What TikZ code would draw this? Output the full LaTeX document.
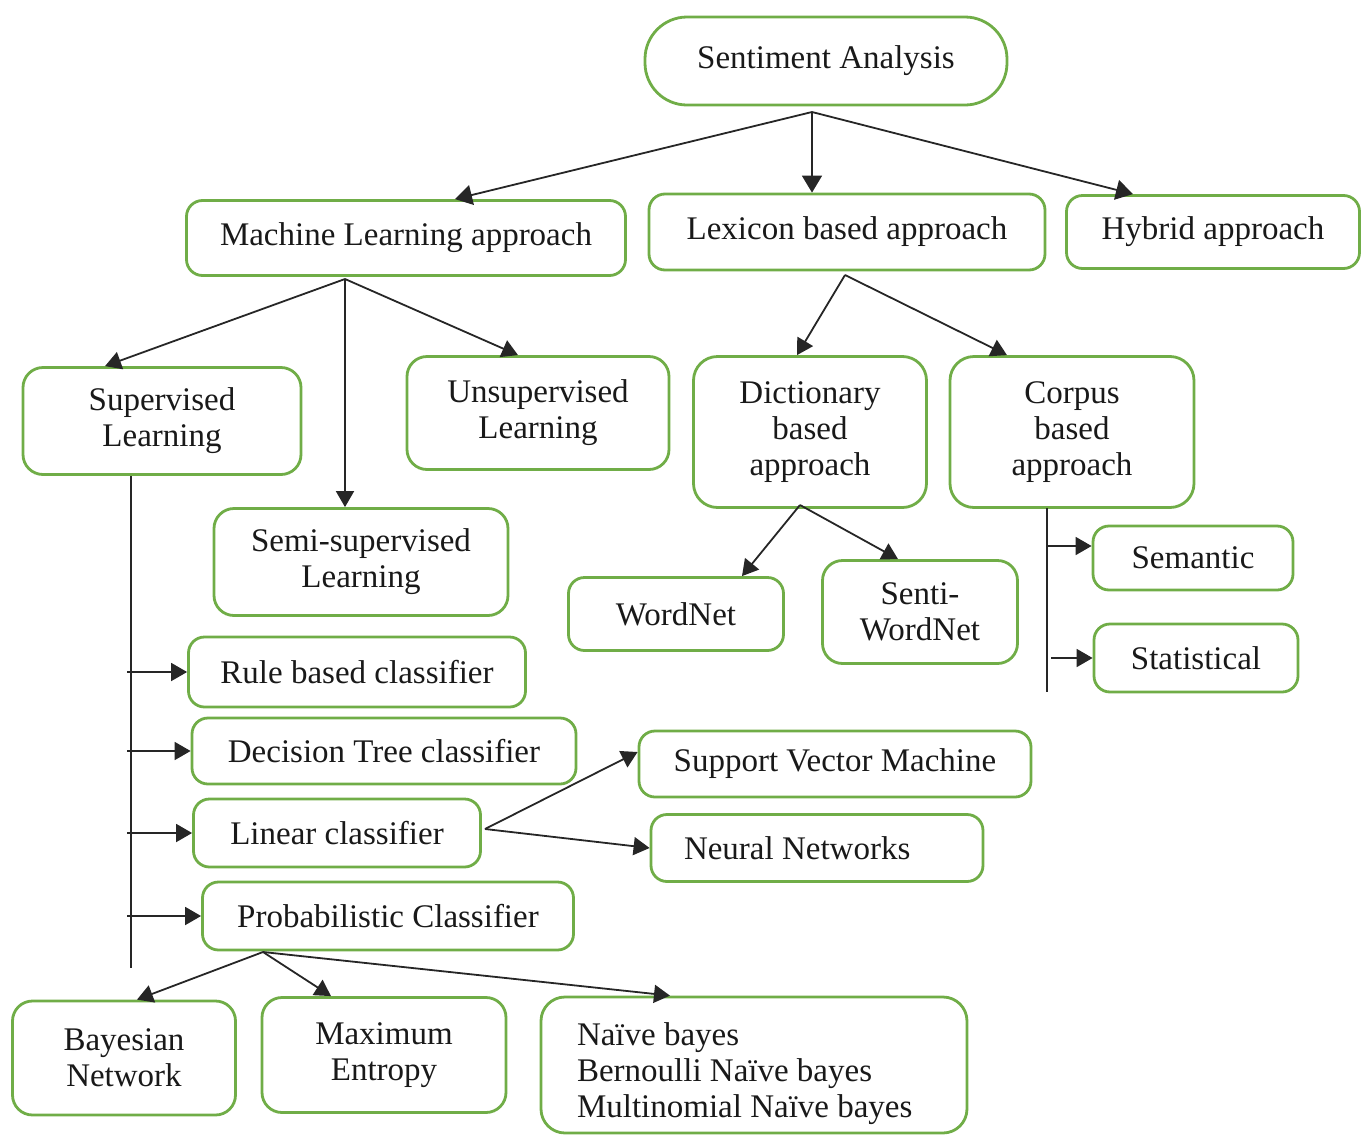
\documentclass[tikz,border=0pt]{standalone}
\usepackage{fontspec}
\setmainfont{Liberation Serif}
\usetikzlibrary{arrows.meta}
\definecolor{boxgreen}{RGB}{112,173,71}
\definecolor{txtgray}{RGB}{25,25,25}

\begin{document}
\begin{tikzpicture}[x=0.5pt,y=-0.5pt,>={Triangle[length=8pt,width=9pt]},
  box/.style={draw=boxgreen,line width=1.4pt,rounded corners=8pt,inner sep=2pt,align=center,
    text=txtgray,font=\fontsize{16.5}{18}\selectfont},
  link/.style={->,draw=black!85,line width=0.9pt},
  trunk/.style={draw=black!85,line width=0.9pt}]
  \useasboundingbox (0,0) rectangle (1362,1136);
  % top levels
  \node[box,minimum width=181pt,minimum height=44pt,rounded corners=21pt] (sa) at (826,61) {Sentiment Analysis};
  \node[box,minimum width=219.5pt,minimum height=37.5pt] (ml) at (406,238) {Machine Learning approach};
  \node[box,minimum width=198pt,minimum height=38pt] (lex) at (847,232) {Lexicon based approach};
  \node[box,minimum width=146.5pt,minimum height=36.5pt] (hyb) at (1213,232) {Hybrid approach};
  % learning types
  \node[box,minimum width=139pt,minimum height=53.5pt,rounded corners=10pt] (sup) at (162,421) {Supervised\\Learning};
  \node[box,minimum width=131pt,minimum height=56.5pt,rounded corners=10pt] (unsup) at (538,413) {Unsupervised\\Learning};
  \node[box,minimum width=147pt,minimum height=53.5pt,rounded corners=10pt] (semi) at (361,562) {Semi-supervised\\Learning};
  % lexicon branch
  \node[box,minimum width=116.5pt,minimum height=75.5pt,rounded corners=12pt] (dict) at (810,432) {Dictionary\\based\\approach};
  \node[box,minimum width=122pt,minimum height=75.5pt,rounded corners=12pt] (corp) at (1072,432) {Corpus\\based\\approach};
  \node[box,minimum width=107.5pt,minimum height=36.5pt] (wn) at (676,614) {WordNet};
  \node[box,minimum width=97.5pt,minimum height=51.5pt,rounded corners=10pt] (swn) at (920,612) {Senti-\\WordNet};
  \node[box,minimum width=100pt,minimum height=32pt] (sem) at (1193,558) {Semantic};
  \node[box,minimum width=102pt,minimum height=34pt] (stat) at (1196,658) {Statistical};
  % supervised classifiers
  \node[box,minimum width=168.5pt,minimum height=35pt] (rule) at (357,672) {Rule based classifier};
  \node[box,minimum width=192pt,minimum height=33pt] (dtree) at (384,751) {Decision Tree classifier};
  \node[box,minimum width=143.5pt,minimum height=34pt] (lin) at (337,833) {Linear classifier};
  \node[box,minimum width=196pt,minimum height=33pt] (svm) at (835,764) {Support Vector Machine};
  \node[box,text width=133pt,inner sep=16.5pt,inner ysep=0pt,align=flush left,minimum height=33.5pt] (nn) at (817,848) {Neural Networks};
  \node[box,minimum width=185.5pt,minimum height=34pt] (prob) at (388,916) {Probabilistic Classifier};
  \node[box,minimum width=111.5pt,minimum height=57pt,rounded corners=10pt] (bayes) at (124,1058) {Bayesian\\Network};
  \node[box,minimum width=122pt,minimum height=57.5pt,rounded corners=10pt] (maxent) at (384,1055) {Maximum\\Entropy};
  \node[box,text width=177pt,inner sep=18pt,inner ysep=0pt,align=flush left,minimum height=68pt,rounded corners=12pt] (nb) at (754,1065)
    {\rule{0pt}{20pt}Naïve bayes\\Bernoulli Naïve bayes\\Multinomial Naïve bayes};
  % junctions
  \coordinate (saj) at (812,112);
  \coordinate (mlj) at (345,279);
  \coordinate (lexj) at (845,275);
  \coordinate (dictj) at (800,505);
  \coordinate (linj) at (485,829);
  \coordinate (probj) at (263,952);
  \coordinate (supt) at (131,476);
  \coordinate (supb) at (131,968);
  \coordinate (corpt) at (1047,508);
  \coordinate (corpb) at (1047,692);
  % connectors
  \draw[link,>={Triangle[length=8.5pt,width=10pt]}] (saj) -- (ml.north -| 455,0);
  \draw[link,>={Triangle[length=8.5pt,width=10pt]}] (saj) -- (lex.north -| 812,0);
  \draw[link,>={Triangle[length=8.5pt,width=10pt]}] (saj) -- (hyb.north -| 1133,0);
  \draw[link] (mlj) -- (sup.north -| 105,0);
  \draw[link] (mlj) -- (semi.north -| 345,0);
  \draw[link] (mlj) -- (unsup.north -| 518,0);
  \draw[link] (lexj) -- (dict.north -| 797,0);
  \draw[link] (lexj) -- (corp.north -| 1007,0);
  \draw[link] (dictj) -- (wn.north -| 742,0);
  \draw[link] (dictj) -- (swn.north -| 898,0);
  \draw[trunk] (supt) -- (supb);
  \foreach \n in {rule,dtree,lin,prob}
    \draw[link] ([xshift=-2pt]supt |- \n.west) -- (\n.west);
  \draw[trunk] (corpt) -- (corpb);
  \draw[link] (corpt |- 0,546) -- (sem.west |- 0,546);
  \draw[link] ([xshift=2pt]corpt |- stat.west) -- (stat.west);
  \draw[link] (linj) -- (svm.west |- 0,752);
  \draw[link] (linj) -- (nn.west);
  \draw[link] (probj) -- (bayes.north -| 137,0);
  \draw[link] (probj) -- (maxent.north -| 331,0);
  \draw[link] (probj) -- (nb.north -| 670,0);
\end{tikzpicture}
\end{document}
